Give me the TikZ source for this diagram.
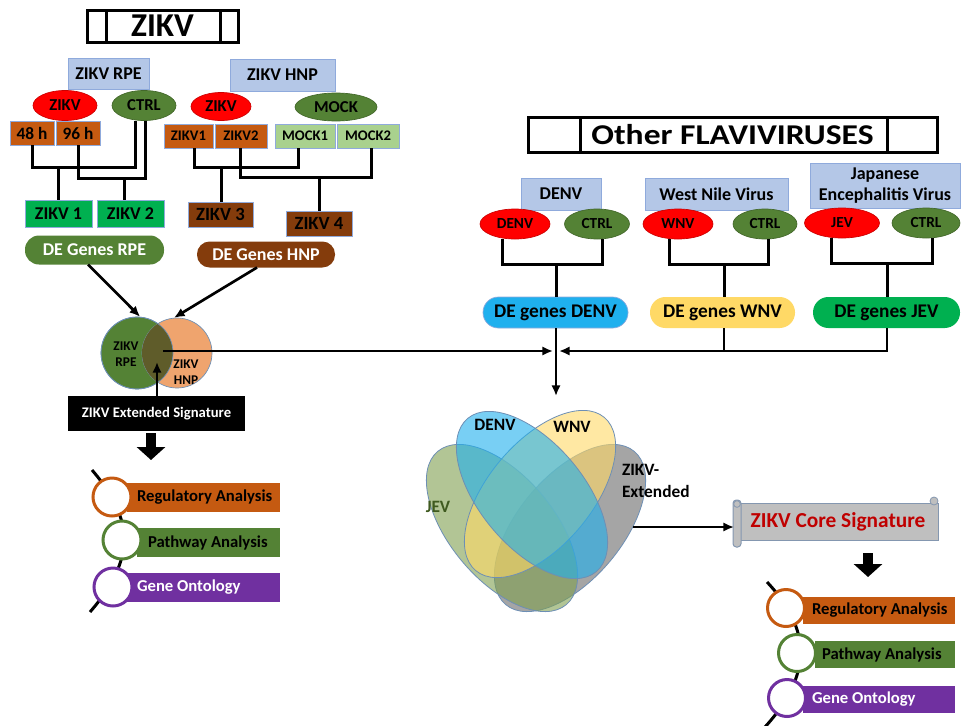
\documentclass[tikz,border=0pt]{standalone}
\usepackage{fontspec}
\setmainfont{Carlito}
\usetikzlibrary{arrows.meta,calc,shapes.geometric}
\definecolor{lblue}{HTML}{B4C7E7}
\definecolor{bbord}{HTML}{8FAADC}
\definecolor{zred}{HTML}{FF0000}
\definecolor{dgreen}{HTML}{548235}
\definecolor{orng}{HTML}{C55A11}
\definecolor{bgreen}{HTML}{00B050}
\definecolor{brwn}{HTML}{843C0C}
\definecolor{lgreen}{HTML}{A9D18E}
\definecolor{purp}{HTML}{7030A0}
\definecolor{cyanb}{HTML}{1FB0EE}
\definecolor{ylw}{HTML}{FFD966}
\definecolor{vorng}{HTML}{EFA46E}
\definecolor{volive}{HTML}{5F5C2A}
\definecolor{vjev}{HTML}{7F9F4F}
\definecolor{vgray}{HTML}{808080}
\definecolor{vline}{HTML}{6D8FB5}
\definecolor{scgray}{HTML}{BFBFBF}
\definecolor{scbord}{HTML}{8497B0}
\definecolor{coretxt}{HTML}{C00000}
\definecolor{jevtxt}{HTML}{3F5A1F}
\newcommand\upx{0.75pt}
\newcommand\myfs[1]{\fontsize{#1}{#1}\selectfont}
\tikzset{
  sz/.style 2 args={minimum width=#1*0.75pt, minimum height=#2*0.75pt},
  base/.style={inner sep=0pt, outer sep=0pt, align=center, font=\bfseries\myfs{13}},
  hdr/.style={base, rectangle, fill=lblue, draw=bbord, line width=0.75pt, font=\bfseries\myfs{13.5}},
  redell/.style={base, ellipse, fill=zred, draw=zred!80!black, line width=0.5pt, font=\bfseries\myfs{11.5}},
  grell/.style={base, ellipse, fill=dgreen, draw=dgreen!80!black, line width=0.5pt, font=\bfseries\myfs{11.5}},
  obox/.style={base, rectangle, fill=orng, draw=bbord, line width=0.5pt},
  mbox/.style={base, rectangle, fill=lgreen, draw=bbord, line width=0.5pt, font=\bfseries\myfs{11}},
  gbox/.style={base, rectangle, fill=bgreen, draw=bbord, line width=0.5pt, font=\bfseries\myfs{13.5}},
  bbox/.style={base, rectangle, fill=brwn, draw=bbord, line width=0.5pt, font=\bfseries\myfs{14}},
  pill/.style={base, rectangle, font=\bfseries\myfs{13.5}},
  tree/.style={line width=2.25pt, black},
  arr/.style={line width=2pt, black, -{Latex[length=8pt,width=7pt]}},
  blk/.style={line width=7.5pt, black, -{Triangle[length=9.75pt,width=21pt]}},
  lrect/.style={base, rectangle},
  ring/.style={circle, fill=white, line width=2.25pt, minimum size=28.5pt, inner sep=0pt},
  ltext/.style={base, anchor=west, font=\bfseries\myfs{12.5}},
  vlab/.style={base, font=\bfseries\myfs{13}}
}
\begin{document}
\begin{tikzpicture}[x=0.75pt,y=-0.75pt]
\useasboundingbox (0,0) rectangle (962,725);
\fill[white] (0,0) rectangle (962,725);

%% ===== ZIKV title
\node[base, draw, line width=2.25pt, sz={151}{32}, font=\bfseries\myfs{25}] (zt) at (162.5,26) {ZIKV};
\draw[line width=2.25pt] ([xshift=19*\upx]zt.north west) -- ([xshift=19*\upx]zt.south west);
\draw[line width=2.25pt] ([xshift=-18*\upx]zt.north east) -- ([xshift=-18*\upx]zt.south east);

%% ===== RPE
\node[hdr, sz={81}{31}] (rpe) at (108.5,73.5) {ZIKV RPE};
\node[redell, sz={64}{30}, font=\bfseries\myfs{12.5}] (rz) at (65,105.5) {ZIKV};
\node[grell, sz={64}{30}, font=\bfseries\myfs{12.5}] (rc) at (144,105.5) {CTRL};
\node[obox, sz={44}{24}] (h48) at (32,133) {48 h};
\node[obox, sz={44}{24}] (h96) at (78,133) {96 h};
\node[gbox, sz={67}{27}] (z1) at (58.5,213.5) {ZIKV 1};
\node[gbox, sz={67}{27}] (z2) at (130.5,213.5) {ZIKV 2};
\node[pill, fill=dgreen, text=white, rounded corners=10.5pt, sz={139}{29}] (degr) at (94.5,250) {DE Genes RPE};

\coordinate (j1) at (58.5,167);
\coordinate (j2) at (124,178);
\draw[tree] (h48.south) |- (j1) -| ([xshift=-9*\upx]rc.south);
\draw[tree] (j1) -- (z1.north);
\draw[tree] (h96.south) |- (j2) -| ([xshift=1*\upx]rc.south);
\draw[tree] (j2) -- (j2 |- z2.north);

%% ===== HNP
\node[hdr, sz={105}{32}] (hnp) at (282.5,75) {ZIKV HNP};
\node[redell, sz={60}{28}, font=\bfseries\myfs{12.5}] (hz) at (221,106.5) {ZIKV};
\node[grell, sz={82}{28}, font=\bfseries\myfs{12.5}] (hm) at (336,107) {MOCK};
\node[obox, sz={49}{24}, font=\bfseries\myfs{11}] (zk1) at (188.5,136) {ZIKV1};
\node[obox, sz={52}{24}, font=\bfseries\myfs{11}] (zk2) at (241,136) {ZIKV2};
\node[mbox, sz={60}{24}] (mk1) at (305,136) {MOCK1};
\node[mbox, sz={62}{24}] (mk2) at (368,136) {MOCK2};
\node[bbox, sz={65}{25}] (z3) at (220.5,214.5) {ZIKV 3};
\node[bbox, sz={66}{25}] (z4) at (319,223.5) {ZIKV 4};
\node[pill, fill=brwn, text=white, rounded corners=9.5pt, sz={138}{26}] (degh) at (266,254.5) {DE Genes HNP};

\coordinate (j3) at (221,167);
\coordinate (j4) at (319,177);
\draw[tree] ([xshift=5.5*\upx]zk1.south) |- (j3) -| ([xshift=-7*\upx]mk1.south);
\draw[tree] (j3) -- (j3 |- z3.north);
\draw[tree] ([xshift=-1*\upx]zk2.south) |- (j4) -| ([xshift=3*\upx]mk2.south);
\draw[tree] (j4) -- (j4 |- z4.north);

%% ===== small Venn
\node[circle, fill=dgreen, draw=vline, line width=0.5pt, minimum size=54pt, inner sep=0pt] (vg) at (137,353) {};
\node[circle, fill=vorng, draw=vline, line width=0.5pt, minimum size=52.5pt, inner sep=0pt] (vo) at (177,353) {};
\begin{scope}
  \clip (137,353) circle [radius=27pt];
  \fill[volive] (177,353) circle [radius=26.25pt];
\end{scope}
\draw[vline, line width=0.5pt] (137,353) circle [radius=27pt];
\node[base, font=\bfseries\fontsize{10}{12}\selectfont] (tr) at (126,354) {ZIKV\\RPE};
\node[base, font=\bfseries\fontsize{10}{12}\selectfont] (th) at (186,372) {ZIKV\\HNP};

\draw[arr] ([xshift=-6.5*\upx]degr.south) -- (vg.85);
\draw[arr] ([xshift=-9*\upx]degh.south) -- (vo.95);

\coordinate (vc) at (163,351);
\coordinate (m) at (556,351);
\draw[arr] (vc) -- ([xshift=-3*\upx]m);

\node[base, fill=black, text=white, sz={177}{35}, font=\bfseries\myfs{11}] (ext) at (156.5,413.5) {ZIKV Extended Signature};
\coordinate (ov) at (157,362);
\draw[arr] (ext.north -| ov) -- (ov);
\draw[blk] ([xshift=-5.5*\upx,yshift=-2*\upx]ext.south) -- ++(0,27);

%% ===== left list
\coordinate (la) at (92,470);
\coordinate (lb) at (90,612);
\draw[line width=2.25pt] (la) .. controls (135,520) and (135,560) .. (lb);
\node[lrect, fill=orng, sz={153}{29}] (lr1) at (203.5,497.5) {};
\node[lrect, fill=dgreen, sz={143}{29}] (lr2) at (208.5,542.5) {};
\node[lrect, fill=purp, sz={153}{29}] (lr3) at (203.5,587.5) {};
\node[ring, draw=orng] (lc1) at (112,497) {};
\node[ring, draw=dgreen] (lc2) at (122,540) {};
\node[ring, draw=purp] (lc3) at (113,587) {};
\node[ltext] (lt1) at ([xshift=10*\upx]lr1.west) {Regulatory Analysis};
\node[ltext] (lt2) at ([xshift=11*\upx]lr2.west) {Pathway Analysis};
\node[ltext, text=white] (lt3) at ([xshift=10*\upx]lr3.west) {Gene Ontology};

%% ===== Other flaviviruses title
\node[base, draw, line width=2.25pt, sz={409}{35}, font=\bfseries\myfs{21.5}] (ft) at (732.5,134.5) {\scalebox{1.17}[1]{Other FLAVIVIRUSES}};
\draw[line width=2.25pt] ([xshift=52*\upx]ft.north west) -- ([xshift=52*\upx]ft.south west);
\draw[line width=2.25pt] ([xshift=-50*\upx]ft.north east) -- ([xshift=-50*\upx]ft.south east);

\node[hdr, sz={80}{32}] (dbox) at (561,194) {DENV};
\node[hdr, sz={143}{32}] (wbox) at (716.5,194) {West Nile Virus};
\node[hdr, sz={150}{45}, font=\bfseries\fontsize{13.5}{16}\selectfont] (jbox) at (885,185.5) {Japanese\\Encephalitis Virus};

\node[redell, sz={70}{30}] (de) at (515,224) {DENV};
\node[grell, sz={65}{30}] (dc) at (597,224) {CTRL};
\node[redell, sz={70}{30}] (we) at (678,224) {WNV};
\node[grell, sz={64}{30}] (wc) at (765,224) {CTRL};
\node[redell, sz={75}{30}] (je) at (842,223) {JEV};
\node[grell, sz={68}{30}] (jc) at (926,223) {CTRL};

\node[pill, fill=cyanb, draw=bbord, line width=0.5pt, rounded corners=11.5pt, sz={145}{31}, font=\bfseries\myfs{14.5}] (degd) at (555.5,312.5) {DE genes DENV};
\node[pill, fill=ylw, rounded corners=11.5pt, sz={145}{31}, font=\bfseries\myfs{14.5}] (degw) at (722.5,312.5) {DE genes WNV};
\node[pill, fill=bgreen, rounded corners=11.5pt, sz={147}{31}, font=\bfseries\myfs{14.5}] (degj) at (886.5,312.5) {DE genes JEV};

\coordinate (dj) at (556,264);
\coordinate (wj) at (724,264);
\coordinate (jj) at (887,263);
\draw[tree] ([xshift=-13*\upx]de.south) |- (dj) -| ([xshift=5*\upx]dc.south);
\draw[tree] (dj) -- (dj |- degd.north);
\draw[tree] ([xshift=-9*\upx]we.south) |- (wj) -| ([xshift=3*\upx]wc.south);
\draw[tree] (wj) -- (wj |- degw.north);
\draw[tree] ([xshift=-11*\upx]je.south) |- (jj) -| ([xshift=6*\upx]jc.south);
\draw[tree] (jj) -- (jj |- degj.north);

\coordinate (v4) at (556,396);
\draw[arr] (m |- degd.south) -- (v4);
\draw[line width=2pt] (wj |- degw.south) -- (wj |- m);
\draw[arr] (jj |- degj.south) |- ([xshift=3*\upx]m);

%% ===== four-set Venn
\path[fill=vgray, fill opacity=0.7, draw=vline, line width=0.6pt, rotate around={50:(570,528)}] (570,528) ellipse [x radius=75pt, y radius=39pt];
\path[fill=vjev, fill opacity=0.6, draw=vline, line width=0.6pt, rotate around={-50:(502,528)}] (502,528) ellipse [x radius=75pt, y radius=39pt];
\path[fill=ylw, fill opacity=0.6, draw=vline, line width=0.6pt, rotate around={50:(540,494)}] (540,494) ellipse [x radius=75pt, y radius=39pt];
\path[fill=cyanb, fill opacity=0.6, draw=vline, line width=0.6pt, rotate around={-50:(532,495)}] (532,495) ellipse [x radius=75pt, y radius=39pt];
\node[vlab] (ld) at (495,425) {DENV};
\node[vlab] (lw) at (572,427) {WNV};
\node[vlab, text=jevtxt] (lj) at (438,507) {JEV};
\node[vlab, anchor=west, align=left, font=\bfseries\fontsize{13}{16.5}\selectfont] (lz) at (622,481) {ZIKV-\\Extended};

%% ===== core signature scroll
\node[base, fill=scgray, draw=scbord, line width=0.75pt, sz={200}{37}, text=coretxt, font=\bfseries\myfs{16}] (core) at (838,521.5) {ZIKV Core Signature};
\draw[fill=scgray, draw=scbord, line width=0.75pt, rounded corners=2.5pt] (733,500) rectangle (741,547);
\draw[fill=scgray, draw=scbord, line width=0.6pt] (737,504) circle [radius=2.5pt];
\draw[fill=scgray, draw=scbord, line width=0.6pt] (934,501) circle [radius=3pt];
\coordinate (zx) at (633,527);
\draw[arr] (zx) -- ([xshift=-4*\upx]zx -| core.west);
\draw[blk] ([xshift=30*\upx,yshift=-13*\upx]core.south) -- ++(0,24);

%% ===== right list
\coordinate (ra) at (767,582);
\coordinate (rb) at (765,727);
\draw[line width=2.25pt] (ra) .. controls (812,630) and (812,675) .. (rb);
\node[lrect, fill=orng, sz={152}{27}] (rr1) at (879,610.5) {};
\node[lrect, fill=dgreen, sz={140}{27}] (rr2) at (885,654.5) {};
\node[lrect, fill=purp, sz={152}{27}] (rr3) at (879,699.5) {};
\node[ring, draw=orng, minimum size=27.75pt] (rc1) at (786,608) {};
\node[ring, draw=dgreen, minimum size=27.75pt] (rc2) at (797,653) {};
\node[ring, draw=purp, minimum size=27.75pt] (rc3) at (787,698) {};
\node[ltext] (rt1) at ([xshift=9*\upx]rr1.west) {Regulatory Analysis};
\node[ltext] (rt2) at ([xshift=7*\upx]rr2.west) {Pathway Analysis};
\node[ltext, text=white] (rt3) at ([xshift=9*\upx]rr3.west) {Gene Ontology};
\end{tikzpicture}
\end{document}
